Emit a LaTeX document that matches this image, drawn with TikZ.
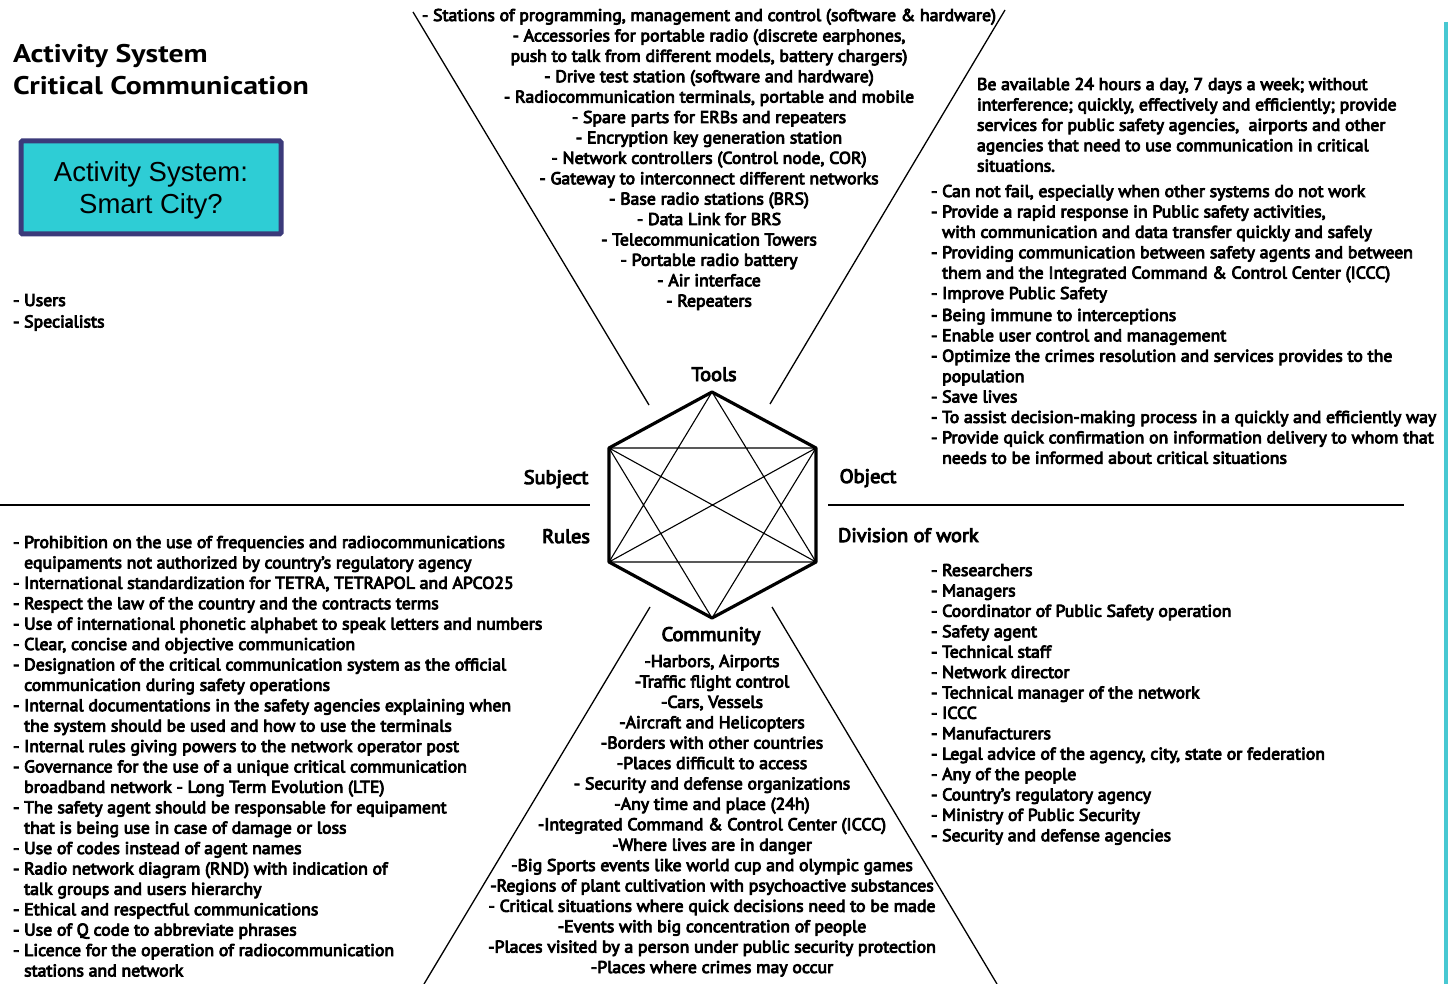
\documentclass[tikz,border=0pt]{standalone}
\usepackage{fontspec}
\newfontfamily\bodyf{PT Sans}[FakeBold=5, FakeStretch=1.045]
\newfontfamily\titlef{PT Sans}[FakeStretch=1.17]
\newfontfamily\arialf{Liberation Sans}
\definecolor{boxfill}{RGB}{46,205,213}
\definecolor{boxedge}{RGB}{59,58,122}
\definecolor{cyanline}{RGB}{72,200,210}
\newcommand\myind{\hphantom{- }}
\begin{document}
\begin{tikzpicture}[x=1pt,y=-1pt,
  every node/.style={inner sep=0pt, outer sep=0pt},
  body/.style={font=\bodyf\fontsize{17}{20.4}\selectfont},
  lab/.style={font=\bodyf\fontsize{19.5}{21}\selectfont},
  rim/.style={line width=3.2pt, line join=round},
  web/.style={line width=1.1pt},
  ray/.style={line width=1.3pt},
]
\useasboundingbox (0,0) rectangle (1448,984);
\fill[white] (0,0) rectangle (1448,984);

% title
\node[anchor=base west, font=\titlef\bfseries\fontsize{25.5}{32}\selectfont] (title) at (13,63)
  {\begin{tabular}[t]{@{}l@{}}Activity System\\Critical Communication\end{tabular}};

% cyan box
\node[draw=boxedge, fill=boxfill, line width=5pt, rounded corners=1.5pt,
      minimum width=260pt, minimum height=93pt, anchor=center] (smart) at (151,187.5) {};
\node[anchor=base, font=\arialf\fontsize{27.5}{32}\selectfont] (smarttxt) at (151,182)
  {\begin{tabular}[t]{@{}c@{}}Activity System:\\Smart City?\end{tabular}};

% subject list
\node[body, anchor=base west] (subj) at (13,306)
  {\begin{tabular}[t]{@{}l@{}}- Users\\[1pt]- Specialists\end{tabular}};

% hexagon
\coordinate (T) at (712,392);
\coordinate (UL) at (609,448);
\coordinate (UR) at (816,448);
\coordinate (LL) at (609,562);
\coordinate (LR) at (816,562);
\coordinate (B) at (712,618);
\draw[web] (UL) -- (UR) (LL) -- (LR) (T) -- (LL) (T) -- (LR) (B) -- (UL) (B) -- (UR) (UL) -- (LR) (UR) -- (LL);
\draw[rim] (T) -- (UR) -- (LR) -- (B) -- (LL) -- (UL) -- cycle;

% rays
\coordinate (tl1) at (413,12);  \coordinate (tl2) at (649,405);
\coordinate (tr1) at (1005,10); \coordinate (tr2) at (770,404);
\coordinate (bl1) at (650,607); \coordinate (bl2) at (424,984);
\coordinate (br1) at (772,607); \coordinate (br2) at (997,984);
\coordinate (hl1) at (0,505);   \coordinate (hl2) at (590,505);
\coordinate (hr1) at (828,505); \coordinate (hr2) at (1404,505);
\draw[ray] (tl1) -- (tl2);
\draw[ray] (tr1) -- (tr2);
\draw[ray] (bl1) -- (bl2);
\draw[ray] (br1) -- (br2);
\draw[ray] (hl1) -- (hl2);
\draw[ray] (hr1) -- (hr2);

% right cyan rule
\coordinate (cy1) at (1445.5,22); \coordinate (cy2) at (1445.5,984);
\draw[cyanline, line width=4pt] (cy1) -- (cy2);

% labels
\node[lab, anchor=base] (ltools) at (714,381) {Tools};
\node[lab, anchor=base] (lsubj) at (556,484) {Subject};
\node[lab, anchor=base] (lobj) at (868,483) {Object};
\node[lab, anchor=base] (lrules) at (566,543) {Rules};
\node[lab, anchor=base west] (ldiv) at (838,542) {Division of work};
\node[lab, anchor=base] (lcomm) at (711,641) {Community};

% tools list
\node[body, anchor=base] (tools) at (709,21) {\begin{tabular}[t]{@{}c@{}}
- Stations of programming, management and control (software \& hardware)\\
- Accessories for portable radio (discrete earphones,\\
push to talk from different models, battery chargers)\\
- Drive test station (software and hardware)\\
- Radiocommunication terminals, portable and mobile\\
- Spare parts for ERBs and repeaters\\
- Encryption key generation station\\
- Network controllers (Control node, COR)\\
- Gateway to interconnect different networks\\
- Base radio stations (BRS)\\
- Data Link for BRS\\
- Telecommunication Towers\\
- Portable radio battery\\
- Air interface\\
- Repeaters
\end{tabular}};

% object paragraph
\node[body, anchor=base west] (objpar) at (977,90) {\begin{tabular}[t]{@{}l@{}}
Be available 24 hours a day, 7 days a week; without\\
interference; quickly, effectively and efficiently; provide\\
services for public safety agencies,\ \ airports and other\\
agencies that need to use communication in critical\\
situations.
\end{tabular}};

% object list
\node[body, anchor=base west] (objlist) at (931,197) {\begin{tabular}[t]{@{}l@{}}
- Can not fail, especially when other systems do not work\\
- Provide a rapid response in Public safety activities,\\
\myind with communication and data transfer quickly and safely\\
- Providing communication between safety agents and between\\
\myind them and the Integrated Command \& Control Center (ICCC)\\
- Improve Public Safety\\[1.5pt]
- Being immune to interceptions\\
- Enable user control and management\\
- Optimize the crimes resolution and services provides to the\\
\myind population\\
- Save lives\\
- To assist decision-making process in a quickly and efficiently way\\
- Provide quick confirmation on information delivery to whom that\\
\myind needs to be informed about critical situations
\end{tabular}};

% rules list
\node[body, anchor=base west] (rules) at (13,548) {\begin{tabular}[t]{@{}l@{}}
- Prohibition on the use of frequencies and radiocommunications\\
\myind equipaments not authorized by country’s regulatory agency\\
- International standardization for TETRA, TETRAPOL and APCO25\\
- Respect the law of the country and the contracts terms\\
- Use of international phonetic alphabet to speak letters and numbers\\
- Clear, concise and objective communication\\
- Designation of the critical communication system as the official\\
\myind communication during safety operations\\
- Internal documentations in the safety agencies explaining when\\
\myind the system should be used and how to use the terminals\\
- Internal rules giving powers to the network operator post\\
- Governance for the use of a unique critical communication\\
\myind broadband network - Long Term Evolution (LTE)\\
- The safety agent should be responsable for equipament\\
\myind that is being use in case of damage or loss\\
- Use of codes instead of agent names\\
- Radio network diagram (RND) with indication of\\
\myind talk groups and users hierarchy\\
- Ethical and respectful communications\\
- Use of Q code to abbreviate phrases\\
- Licence for the operation of radiocommunication\\
\myind stations and network
\end{tabular}};

% community list
\node[body, anchor=base] (comm) at (712,667) {\begin{tabular}[t]{@{}c@{}}
-Harbors, Airports\\
-Traffic flight control\\
-Cars, Vessels\\
-Aircraft and Helicopters\\
-Borders with other countries\\
-Places difficult to access\\
- Security and defense organizations\\
-Any time and place (24h)\\
-Integrated Command \& Control Center (ICCC)\\
-Where lives are in danger\\
-Big Sports events like world cup and olympic games\\
-Regions of plant cultivation with psychoactive substances\\
- Critical situations where quick decisions need to be made\\
-Events with big concentration of people\\
-Places visited by a person under public security protection\\
-Places where crimes may occur
\end{tabular}};

% division of work list
\node[body, anchor=base west] (div) at (931,576) {\begin{tabular}[t]{@{}l@{}}
- Researchers\\
- Managers\\
- Coordinator of Public Safety operation\\
- Safety agent\\
- Technical staff\\
- Network director\\
- Technical manager of the network\\
- ICCC\\
- Manufacturers\\
- Legal advice of the agency, city, state or federation\\
- Any of the people\\
- Country’s regulatory agency\\
- Ministry of Public Security\\
- Security and defense agencies
\end{tabular}};
\end{tikzpicture}
\end{document}
